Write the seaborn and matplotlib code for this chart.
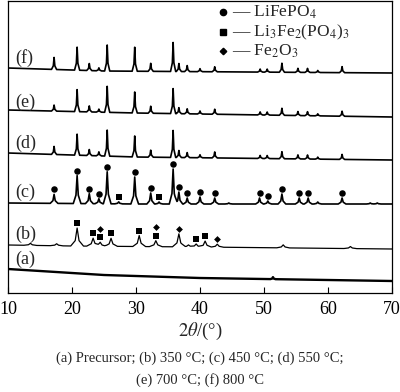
import numpy as np
import pandas as pd
import matplotlib
matplotlib.use("Agg")
import matplotlib.pyplot as plt
from matplotlib.lines import Line2D
import seaborn as sns

sns.set_theme(style="white")
plt.rcParams['font.family'] = ['Liberation Serif', 'DejaVu Serif']
plt.rcParams['mathtext.fontset'] = 'stix'

# ---------------- data (2theta in degrees, intensity in a.u.) ----------------
LFP_POS = [17.2, 20.8, 22.7, 24.2, 25.5, 29.8, 32.3, 35.8, 36.7, 38.0, 40.0,
           42.3, 49.4, 50.5, 52.8, 55.3, 56.8, 58.4, 62.2]
F_H = [12, 23, 7, 3, 26, 24, 8, 29, 8, 6, 3, 5, 3, 3, 9, 4, 4, 2, 6]
E_H = [6, 22, 6, 3, 26, 21, 7, 25, 6, 5, 3, 5, 3, 3, 7, 4, 4, 2, 5]
D_H = [8, 21, 6, 4, 26, 21, 7, 27, 7, 5, 3, 6, 3, 3, 7, 4, 4, 2, 5]

C_POS = [17.2, 20.8, 22.7, 24.2, 25.5, 27.3, 29.8, 32.3, 33.6, 35.8, 36.7, 38.0,
         40.0, 42.3, 44.5, 49.3, 50.6, 52.8, 55.5, 56.9, 58.4, 62.2, 66.6, 67.7]
C_H = [9, 28, 10, 5, 32, 2, 27, 11, 2, 35, 12, 6,
       7, 6, 1, 6, 3, 10, 6, 6, 2, 6, 1, 1]
C_PHASE = ['L', 'L', 'L', 'L', 'L', 'S', 'L', 'L', 'S', 'L', 'L', 'L',
           'L', 'L', '', 'L', 'L', 'L', 'L', 'L', '', 'L', '', '']

B_POS = [13.5, 17.6, 20.8, 23.3, 24.4, 26.1, 30.5, 33.1, 36.7, 38.2, 39.4, 40.8, 42.7, 53.0, 63.5]
B_H = [2, 2, 18, 8, 4, 8, 11, 6, 13, 2, 3, 6, 3, 3, 2]
B_SQ_POS = [20.8, 23.3, 24.4, 26.1, 30.5, 33.1, 39.4, 40.8]
B_DI_POS = [24.4, 33.1, 36.7, 42.7]
B_DI_LEVEL = [1, 1, 0, 0]

A_POS = [51.4]
A_H = [2]

# backgrounds
F_BG_X, F_BG_Y = [10, 25, 70], [225, 222, 220]
E_BG_X, E_BG_Y = [10, 30, 70], [183, 180, 176]
D_BG_X, D_BG_Y = [10, 30, 70], [140, 136, 133]
C_BG_X, C_BG_Y = [10, 30, 70], [90, 89, 89]
B_BG_X, B_BG_Y = [10, 20, 40, 70], [48, 47, 46, 44]
A_BG_X = [10, 15, 20, 25, 30, 40, 50, 60, 70]
A_BG_Y = [24, 22, 20, 18, 17, 15, 14, 13, 12]

TRACE_LABELS = ['(f)', '(e)', '(d)', '(c)', '(b)', '(a)']
LEGEND_LABELS = [r'— LiFePO$_4$', r'— Li$_3$Fe$_2$(PO$_4$)$_3$', r'— Fe$_2$O$_3$']
LEGEND_MARKERS = ['o', 's', 'D']
CAPTION = ["(a) Precursor; (b) 350 °C; (c) 450 °C; (d) 550 °C;",
           "(e) 700 °C; (f) 800 °C"]

# ---------------- helpers ----------------
SHAPE_DX = np.array([-0.4, -0.12, 0.0, 0.12, 0.4])
SHAPE_FR = np.array([0.0, 0.3, 1.0, 0.3, 0.0])


def trace(bg_x, bg_y, pos, h, width=1.0):
    xs = [np.asarray(bg_x, float)]
    for p in pos:
        xs.append(p + SHAPE_DX * width)
    x = np.unique(np.concatenate(xs))
    x = x[(x >= 10) & (x <= 70)]
    y = np.interp(x, bg_x, bg_y)
    for p, hh in zip(pos, h):
        y = y + np.interp(x, p + SHAPE_DX * width, hh * SHAPE_FR, left=0, right=0)
    return pd.DataFrame({'x': x, 'y': y})


def top(bg_x, bg_y, pos, h):
    return np.interp(pos, bg_x, bg_y) + h


fig = plt.figure(figsize=(4.0, 3.92), dpi=100)
ax = fig.add_axes([8 / 400, (392 - 293) / 392, 384 / 400, 292 / 392])

traces = [
    (F_BG_X, F_BG_Y, LFP_POS, F_H, 1.0, 1.2),
    (E_BG_X, E_BG_Y, LFP_POS, E_H, 1.0, 1.2),
    (D_BG_X, D_BG_Y, LFP_POS, D_H, 1.0, 1.2),
    (C_BG_X, C_BG_Y, C_POS, C_H, 1.5, 1.2),
    (B_BG_X, B_BG_Y, B_POS, B_H, 2.5, 0.9),
    (A_BG_X, A_BG_Y, A_POS, A_H, 1.0, 1.7),
]
for bx, by, p, h, w, lw in traces:
    df = trace(bx, by, p, h, w)
    sns.lineplot(data=df, x='x', y='y', sort=False, estimator=None,
                 color='black', lw=lw, ax=ax)

GAP = 5.0
STEP = 8.5
# markers on (c)
c_top = top(C_BG_X, C_BG_Y, C_POS, C_H)
c_ph = np.array(C_PHASE)
cpos = np.array(C_POS)
sns.scatterplot(x=cpos[c_ph == 'L'], y=c_top[c_ph == 'L'] + GAP, marker='o',
                s=22, color='black', edgecolor='black', linewidth=0, ax=ax)
sns.scatterplot(x=cpos[c_ph == 'S'], y=c_top[c_ph == 'S'] + GAP, marker='s',
                s=20, color='black', edgecolor='black', linewidth=0, ax=ax)
# markers on (b)
b_top_sq = top(B_BG_X, B_BG_Y, B_SQ_POS, np.interp(B_SQ_POS, B_POS, B_H))
sns.scatterplot(x=B_SQ_POS, y=b_top_sq + GAP, marker='s', s=20,
                color='black', edgecolor='black', linewidth=0, ax=ax)
b_top_di = top(B_BG_X, B_BG_Y, B_DI_POS, np.interp(B_DI_POS, B_POS, B_H))
sns.scatterplot(x=B_DI_POS, y=b_top_di + GAP + np.array(B_DI_LEVEL) * STEP,
                marker='D', s=12, color='black', edgecolor='black', linewidth=0, ax=ax)

# trace labels
label_y = [235, 191, 150, 101, 59, 34]
for t, yy in zip(TRACE_LABELS, label_y):
    ax.text(11.2, yy, t, ha='left', va='center', fontsize=13)

ax.set_xlim(10, 70)
ax.set_ylim(0, 292)
ax.set_xticks([10, 20, 30, 40, 50, 60, 70])
ax.set_yticks([])
ax.tick_params(axis='x', direction='in', length=4, width=0.8, labelsize=13,
               pad=6, bottom=True, top=False, colors='black')
ax.set_xlabel(r'$\mathit{2}\theta$/(°)', fontsize=13.5, labelpad=2)
ax.set_ylabel('')
for s in ax.spines.values():
    s.set_color('black')
    s.set_linewidth(0.9)

# legend (key markers + labels) in the upper right of the plot
for i, (lab, mk) in enumerate(zip(LEGEND_LABELS, LEGEND_MARKERS)):
    ym = 12 + 19.5 * i
    ms = 4.5 if mk != 'D' else 3.3
    fig.add_artist(Line2D([223 / 400], [1 - ym / 392], marker=mk, ls='none',
                          color='black', markersize=ms, transform=fig.transFigure))
    fig.text(232 / 400, 1 - (ym + 4.5) / 392, lab, ha='left', va='baseline',
             fontsize=12.5)

fig.text(0.5, 1 - 358 / 392, CAPTION[0], ha='center', va='center', fontsize=10.5)
fig.text(0.5, 1 - 380 / 392, CAPTION[1], ha='center', va='center', fontsize=10.5)

fig.savefig('out.png', dpi=100)
